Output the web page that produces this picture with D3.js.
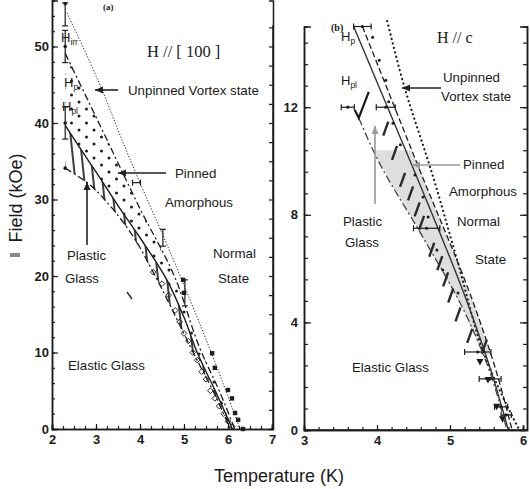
<!DOCTYPE html>
<html><head><meta charset="utf-8">
<script src="https://cdn.jsdelivr.net/npm/d3@7"></script>
<style>
body{margin:0;background:#fff;}
svg{display:block;font-family:"Liberation Sans",Arial,sans-serif;}
</style></head>
<body><svg id="c" width="530" height="489"></svg>
<script>
// ---------- DATA: panel (a) H // [100] ----------
const aXTicks = [2,3,4,5,6,7];
const aYTicks = [0,10,20,30,40,50];
const aHirr  = [[2.34,54.4],[3.14,44.3],[3.59,37.8],[4.95,19.5],[5.86,6.4],[6.27,0]];
const aHp    = [[2.3,49.1],[3.25,37.8],[4.0,28.8],[4.75,20.4],[5.4,10],[5.8,5],[6.15,0]];
const aHpl   = [[2.3,39.7],[2.57,37.3],[3.0,33.6],[3.5,29.2],[4.0,25],[4.61,19.5],[5.0,14.6],[5.3,10],[5.75,4.5],[6.1,0]];
const aLower = [[2.3,34.1],[2.8,32.2],[3.3,29.3],[3.77,25.8],[4.39,19.5],[4.8,14.8],[5.2,10.1],[5.7,4.5],[6.05,0]];
const aErrV  = [[2.3,54.2,1.5],[2.3,50,2.1],[2.3,40,2.1],[4.52,25,1.1],[5.02,17.8,1.7]];
const aErrH  = [[3.92,32.2,0.09]];
const aPts   = [[2.3,55.6],[2.3,50],[2.3,40],[2.3,34.1]];
const aSquares = [[4.98,19.5],[5.0,17.8],[5.64,9.9],[5.7,8.0],[6.0,5.1],[6.09,4.0],[6.16,2.1],[6.23,1.2],[6.34,0]];
const aOpen  = [[4.3,20.5],[4.5,19],[4.65,17.5],[4.8,15.5],[4.9,14],[5.0,12.5],[5.1,11.5],[5.2,10],[5.3,9],[5.4,7.5],[5.5,6.5],[5.6,5],[5.7,4],[5.8,3],[5.9,2],[6.0,1],[6.1,0.3]];

// ---------- DATA: panel (b) H // c ----------
const bXTicks = [3,4,5,6];
const bYTicks = [0,4,8,12];
const bHirr  = [[4.14,15.2],[4.36,12.9],[4.77,9.4],[5.1,6.3],[5.5,2.6],[5.8,0.8],[5.95,0]];
const bHp    = [[3.8,15],[4.58,9.7],[5.35,4.5],[5.62,2.3],[5.85,0]];
const bSolid = [[3.68,15],[4.5,9.7],[5.27,4.5],[5.55,2.3],[5.8,0]];
const bLower = [[3.75,11.6],[4.0,10.1],[4.6,7.3],[5.18,4.5],[5.5,2.5],[5.78,0]];
const bErrH  = [[3.8,15,0.12],[3.6,12,0.09],[4.12,12,0.13],[4.68,7.5,0.18],[5.38,2.9,0.18],[5.55,1.9,0.15],[5.7,0.86,0.09],[5.77,0.56,0.07]];
const bDots  = [[3.94,14.6],[4.03,13.75],[4.12,13.0],[4.16,12.2],[4.22,11.4],[4.32,10.6],[4.52,9.48],[4.63,8.66],[4.70,7.92],[4.82,6.69],[4.90,5.95],[5.11,5.09]];
const bMarks = [[4.12,11.2],[4.24,10.3],[4.35,9.3],[4.46,8.8],[4.55,8.2],[4.61,7.7],[4.75,6.7],[4.86,6.2],[4.94,5.6],[5.01,5.0],[5.11,4.3],[5.27,3.5],[5.47,3.1]];
const bTri   = [[5.41,2.53],[5.52,1.86],[5.64,0.86],[5.72,0.4]];
const bGrayBand = [2.8,10.4];

const svg = d3.select("#c");
const ink = "#1c1c1c";

// ---------- scales ----------
const xA = d3.scaleLinear().domain([2,7]).range([52,272]);
const yA = d3.scaleLinear().domain([0,56]).range([429,0.6]);
const xB = d3.scaleLinear().domain([3,6]).range([304,523]);
const yB = d3.scaleLinear().domain([0,15]).range([430,26.5]);

// patterns
const defs = svg.append("defs");
const pd = defs.append("pattern").attr("id","dotsA").attr("patternUnits","userSpaceOnUse")
  .attr("width",15).attr("height",14);
pd.append("circle").attr("cx",4).attr("cy",4).attr("r",1.5).attr("fill",ink);
pd.append("circle").attr("cx",11.5).attr("cy",11).attr("r",1.5).attr("fill",ink);
const ph = defs.append("pattern").attr("id","hatchA").attr("patternUnits","userSpaceOnUse")
  .attr("width",9).attr("height",10).attr("patternTransform","rotate(-6)");
ph.append("line").attr("x1",2).attr("y1",0).attr("x2",2).attr("y2",10).attr("stroke",ink).attr("stroke-width",1.7);

function band(xs, ys, upper, lower){
  const pts = upper.map(d=>[xs(d[0]),ys(d[1])]).concat(lower.slice().reverse().map(d=>[xs(d[0]),ys(d[1])]));
  return "M"+pts.map(p=>p.join(",")).join("L")+"Z";
}
function lineGen(xs, ys){ return d3.line().x(d=>xs(d[0])).y(d=>ys(d[1])).curve(d3.curveMonotoneY); }

// ================= PANEL A =================
const gA = svg.append("g");
gA.append("path").attr("d",band(xA,yA,aHp,aHpl)).attr("fill","url(#dotsA)");
gA.append("path").attr("d",band(xA,yA,aHpl,aLower)).attr("fill","url(#hatchA)");
const la = lineGen(xA,yA);
gA.append("path").attr("d",la(aHirr)).attr("fill","none").attr("stroke",ink).attr("stroke-width",1).attr("stroke-dasharray","1.2,1.8");
gA.append("path").attr("d",la(aHp)).attr("fill","none").attr("stroke",ink).attr("stroke-width",1.3).attr("stroke-dasharray","7,3,2,3");
gA.append("path").attr("d",la(aHpl)).attr("fill","none").attr("stroke",ink).attr("stroke-width",1.4);
gA.append("path").attr("d",la(aLower)).attr("fill","none").attr("stroke",ink).attr("stroke-width",1.3).attr("stroke-dasharray","7,3,2,3");

aErrV.forEach(d=>{
  const x=xA(d[0]), y1=yA(d[1]-d[2]), y2=yA(d[1]+d[2]);
  gA.append("line").attr("x1",x).attr("x2",x).attr("y1",y1).attr("y2",y2).attr("stroke",ink).attr("stroke-width",1.2);
  [y1,y2].forEach(y=>gA.append("line").attr("x1",x-3).attr("x2",x+3).attr("y1",y).attr("y2",y).attr("stroke",ink).attr("stroke-width",1.2));
});
aErrH.forEach(d=>{
  const y=yA(d[1]), x1=xA(d[0]-d[2]), x2=xA(d[0]+d[2]);
  gA.append("line").attr("x1",x1).attr("x2",x2).attr("y1",y).attr("y2",y).attr("stroke",ink).attr("stroke-width",1.2);
  [x1,x2].forEach(x=>gA.append("line").attr("x1",x).attr("x2",x).attr("y1",y-3).attr("y2",y+3).attr("stroke",ink).attr("stroke-width",1.2));
});
gA.selectAll(".pa").data(aPts).join("circle").attr("cx",d=>xA(d[0])).attr("cy",d=>yA(d[1])).attr("r",1.8).attr("fill",ink);
gA.selectAll(".sq").data(aSquares).join("rect").attr("x",d=>xA(d[0])-2.2).attr("y",d=>yA(d[1])-2.2).attr("width",4.4).attr("height",4.4).attr("fill",ink);
gA.selectAll(".op").data(aOpen).join("rect").attr("x",d=>xA(d[0])-2).attr("y",d=>yA(d[1])-2).attr("width",4).attr("height",4)
  .attr("fill","none").attr("stroke",ink).attr("stroke-width",0.9).attr("transform",d=>`rotate(45,${xA(d[0])},${yA(d[1])})`);

// axes A
gA.append("g").attr("transform","translate(0,429)").call(d3.axisBottom(xA).tickValues(aXTicks).tickSize(-5).tickPadding(6).tickFormat(d3.format("d")));
gA.append("g").attr("transform","translate(0,429)").call(d3.axisBottom(xA).tickValues(d3.range(2,7.01,0.25)).tickSize(-3).tickFormat(""));
gA.append("g").attr("transform","translate(52,0)").call(d3.axisLeft(yA).tickValues(aYTicks).tickSize(-6).tickPadding(3));
gA.append("g").attr("transform","translate(52,0)").call(d3.axisLeft(yA).tickValues(d3.range(0,56.1,2)).tickSize(-3).tickFormat(""));
gA.append("g").attr("transform","translate(273,0)").call(d3.axisRight(yA).tickValues(d3.range(0,54,2.5)).tickSize(-4).tickFormat(""));
gA.append("line").attr("x1",273).attr("x2",273).attr("y1",25).attr("y2",429).attr("stroke",ink).attr("stroke-width",1.5);

// ================= PANEL B =================
const gB = svg.append("g");
const lb = lineGen(xB,yB);
defs.append("clipPath").attr("id","grayclip").append("rect")
  .attr("x",290).attr("width",240).attr("y",yB(bGrayBand[1])).attr("height",yB(bGrayBand[0])-yB(bGrayBand[1]));
gB.append("path").attr("d",band(xB,yB,bHp,bLower)).attr("fill","#dedede").attr("clip-path","url(#grayclip)");
gB.append("path").attr("d",lb(bHirr)).attr("fill","none").attr("stroke",ink).attr("stroke-width",2.2).attr("stroke-linecap","round").attr("stroke-dasharray","0.1,4.5");
gB.append("path").attr("d",lb(bHp)).attr("fill","none").attr("stroke",ink).attr("stroke-width",1.3).attr("stroke-dasharray","6,3");
gB.append("path").attr("d",lb(bSolid)).attr("fill","none").attr("stroke","#333").attr("stroke-width",1.4);
gB.append("path").attr("d",lb(bLower)).attr("fill","none").attr("stroke","#444").attr("stroke-width",1.3).attr("stroke-dasharray","8,3,2,3");

bErrH.forEach(d=>{
  const y=yB(d[1]), x1=xB(d[0]-d[2]), x2=xB(d[0]+d[2]);
  gB.append("line").attr("x1",x1).attr("x2",x2).attr("y1",y).attr("y2",y).attr("stroke",ink).attr("stroke-width",1.2);
  [x1,x2].forEach(x=>gB.append("line").attr("x1",x).attr("x2",x).attr("y1",y-3).attr("y2",y+3).attr("stroke",ink).attr("stroke-width",1.2));
  gB.append("circle").attr("cx",xB(d[0])).attr("cy",y).attr("r",1.6).attr("fill",ink);
});
gB.selectAll(".bd").data(bDots).join("circle").attr("cx",d=>xB(d[0])).attr("cy",d=>yB(d[1])).attr("r",1.5).attr("fill",ink);
gB.selectAll(".bm").data(bMarks).join("line")
  .attr("x1",d=>xB(d[0])-2.5).attr("y1",d=>yB(d[1])+7).attr("x2",d=>xB(d[0])+2.5).attr("y2",d=>yB(d[1])-7)
  .attr("stroke","#2a2a2a").attr("stroke-width",2.4);
const hplPt = bLower[0];
gB.append("path").attr("d",`M${xB(hplPt[0])-4},${yB(hplPt[1])-8}L${xB(hplPt[0])},${yB(hplPt[1])}L${xB(hplPt[0])+10},${yB(hplPt[1])-26}`)
  .attr("fill","none").attr("stroke",ink).attr("stroke-width",2.2);
gB.selectAll(".bt").data(bTri).join("path")
  .attr("d",d=>{const x=xB(d[0]),y=yB(d[1]);return `M${x-3.5},${y-3}L${x+3.5},${y-3}L${x},${y+3.5}Z`;}).attr("fill",ink);

// axes B
gB.append("g").attr("transform","translate(0,430)").call(d3.axisBottom(xB).tickValues(bXTicks).tickSize(-5).tickPadding(6).tickFormat(d3.format("d")));
gB.append("g").attr("transform","translate(0,430)").call(d3.axisBottom(xB).tickValues(d3.range(3,6.05,0.2)).tickSize(-3).tickFormat(""));
gB.append("g").attr("transform","translate(304,0)").call(d3.axisLeft(yB).tickValues(bYTicks).tickSize(-7).tickPadding(6));
gB.append("g").attr("transform","translate(304,0)").call(d3.axisLeft(yB).tickValues(d3.range(0,15.01,0.8)).tickSize(-4).tickFormat(""));
gB.append("g").attr("transform","translate(527,0)").call(d3.axisRight(yB).tickValues(bYTicks).tickSize(-7).tickFormat(""));
gB.append("g").attr("transform","translate(527,0)").call(d3.axisRight(yB).tickValues(d3.range(0,15.01,0.8)).tickSize(-4).tickFormat(""));
gB.append("line").attr("x1",304).attr("x2",527).attr("y1",430).attr("y2",430).attr("stroke",ink).attr("stroke-width",1.5);

svg.selectAll(".domain").attr("stroke",ink).attr("stroke-width",1.5);
svg.selectAll(".tick line").attr("stroke",ink).attr("stroke-width",1.2);
svg.selectAll(".tick text").attr("font-size",13).attr("font-weight","bold").attr("fill",ink).attr("font-family","Liberation Sans, Arial, sans-serif");

// ================= TEXT =================
function t(x,y,s,opt={}){
  return svg.append("text").attr("x",x).attr("y",y).text(s)
   .attr("font-size",opt.size||13.3).attr("fill",opt.fill||"#1a1a1a")
   .attr("font-family",opt.family||"Liberation Sans, Arial, sans-serif")
   .attr("font-weight",opt.weight||"normal").attr("text-anchor",opt.anchor||"start");
}
function arrow(x1,y1,x2,y2,color){
  svg.append("line").attr("x1",x1).attr("y1",y1).attr("x2",x2).attr("y2",y2).attr("stroke",color).attr("stroke-width",1.6);
  const a=Math.atan2(y2-y1,x2-x1), L=8, w=3.5;
  const bx=x2-L*Math.cos(a), by=y2-L*Math.sin(a);
  svg.append("path").attr("d",`M${x2},${y2}L${bx-w*Math.sin(a)},${by+w*Math.cos(a)}L${bx+w*Math.sin(a)},${by-w*Math.cos(a)}Z`).attr("fill",color);
}
function hsub(x,y,sub){
  const g=t(x,y,"H",{size:13});
  g.append("tspan").attr("font-size",8.5).attr("dy",3).text(sub);
}
// panel a
t(103,10,"(a)",{size:9,weight:"bold",family:"Liberation Serif, serif"});
t(147,57,"H // [ 100 ]",{size:16.5,family:"Liberation Serif, serif"});
hsub(61,42,"irr"); hsub(64,87,"p"); hsub(62,111,"pl");
t(128,95,"Unpinned Vortex state");
arrow(118,90,95,90,"#222");
t(175,178,"Pinned");
arrow(166,173,118,173,"#222");
t(165,207,"Amorphous");
arrow(87,245,87,182,"#222");
t(67,260,"Plastic");
t(65,283,"Glass");
t(213,258,"Normal");
t(218,283,"State");
t(68,370,"Elastic Glass");
svg.append("line").attr("x1",127).attr("y1",292).attr("x2",132).attr("y2",299).attr("stroke","#333").attr("stroke-width",1.5);
// panel b
t(331,31,"(b)",{size:10,weight:"bold",family:"Liberation Serif, serif"});
hsub(341,41,"p");
hsub(341,85,"pl");
t(437,43,"H // c",{size:16,family:"Liberation Serif, serif"});
t(443,82,"Unpinned");
t(441,101,"Vortex state");
arrow(441,88,402,88,"#222");
t(463,169,"Pinned");
arrow(460,165,412,165,"#9a9a9a");
t(449,196,"Amorphous");
arrow(375,204,375,126,"#9a9a9a");
t(343,226,"Plastic");
t(345,247,"Glass");
t(457,226,"Normal");
t(475,264,"State");
t(352,372,"Elastic Glass");

// axis titles
t(279,482,"Temperature (K)",{size:18,anchor:"middle"});
svg.append("text").attr("transform","translate(22,198) rotate(-90)").attr("text-anchor","middle")
  .attr("font-size",18).attr("fill","#1a1a1a").attr("font-family","Liberation Sans, Arial, sans-serif").text("Field (kOe)");
svg.append("rect").attr("x",10).attr("y",253).attr("width",10).attr("height",4).attr("fill","#888");
</script></body></html>
